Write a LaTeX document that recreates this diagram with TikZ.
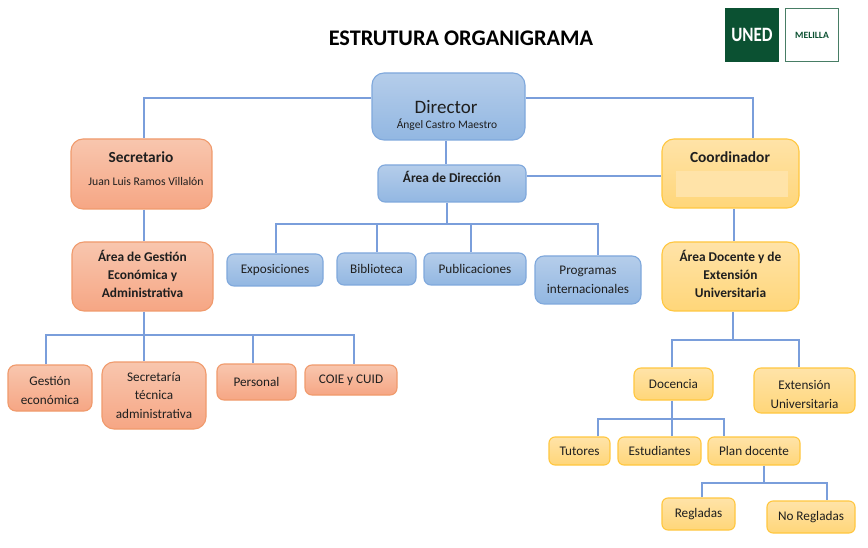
\documentclass[tikz,border=0pt]{standalone}
\usepackage{fontspec}
\setmainfont{Carlito}
\usetikzlibrary{calc}
\definecolor{bluetop}{HTML}{B5CDEA}\definecolor{bluebot}{HTML}{92B7E2}\definecolor{blueline}{HTML}{7FA8DC}
\definecolor{redtop}{HTML}{F8C6AE}\definecolor{redbot}{HTML}{F6A684}\definecolor{redline}{HTML}{F09A6C}
\definecolor{yeltop}{HTML}{FFE3A8}\definecolor{yelbot}{HTML}{FFD679}\definecolor{yelline}{HTML}{FFC73F}
\definecolor{link}{HTML}{7A9EDB}\definecolor{uned}{HTML}{0B5132}\definecolor{txt}{HTML}{1F1F1F}
\tikzset{
 x=1pt,y=-1pt,
 base/.style={rounded corners=#1,line width=1.1pt,inner sep=0pt,align=center,text=txt,font=\fontsize{13.2}{18.5}\selectfont},
 bluebox/.style={base=#1,draw=blueline,top color=bluetop,bottom color=bluebot},
 redbox/.style={base=#1,draw=redline,top color=redtop,bottom color=redbot},
 yelbox/.style={base=#1,draw=yelline,top color=yeltop,bottom color=yelbot},
 head/.style={font=\fontsize{15.4}{20}\bfseries\selectfont},
 subhead/.style={font=\fontsize{13.4}{18}\bfseries\selectfont},
 small/.style={text=txt,font=\fontsize{11.7}{14}\selectfont},
 conn/.style={draw=link,line width=1.1pt},
}
\newcommand{\bx}[7]{\node[#2,minimum width=#5pt-#3pt,minimum height=#6pt-#4pt] (#1) at ({(#3+#5)/2},{(#4+#6)/2}) {#7};}
\begin{document}
\begin{tikzpicture}
\useasboundingbox (0,0) rectangle (868,548);
\fill[white] (0,0) rectangle (868,548);
% connector corners
\coordinate (jl) at (144,98); \coordinate (jr) at (753,98);
\coordinate (b1) at (447,224); \coordinate (b2) at (144,335);
\coordinate (xexp) at (276,224); \coordinate (xbib) at (377,224); \coordinate (xpub) at (471,224); \coordinate (xpro) at (598,224);
\coordinate (xges) at (46,335); \coordinate (xper) at (253,335); \coordinate (xcoi) at (354,335);
\coordinate (xdoc) at (672,340); \coordinate (xext) at (799,340); \coordinate (xado) at (733,340);
\coordinate (xtut) at (598,419); \coordinate (xest) at (672,419); \coordinate (xpla) at (724,419);
\coordinate (xreg) at (702,483); \coordinate (xnor) at (827,483); \coordinate (xplb) at (764,483);
% nodes
\bx{dir}{bluebox=12pt}{372}{73}{525}{140}{}
\node[text=txt,font=\fontsize{19}{20}\selectfont] (dirname) at (446,107) {Director};
\node[text=txt,font=\fontsize{11.5}{14}\selectfont] (dirsub) at (447,125) {Ángel Castro Maestro};
\bx{adir}{bluebox=7pt,subhead}{378}{165}{526}{202}{\raisebox{1pt}[0pt][0pt]{Área de Dirección}}
\bx{sec}{redbox=12pt}{71}{139}{212}{209}{}
\node[text=txt,head] (secname) at (141,157) {Secretario};
\node[small] (secsub) at (146,181) {Juan Luis Ramos Villalón};
\bx{age}{redbox=12pt,subhead}{72}{242}{213}{311}{Área de Gestión\\Económica y\\Administrativa\rule[-5pt]{0pt}{0pt}}
\bx{coo}{yelbox=12pt}{662}{139}{799}{208}{}
\fill[yeltop] (676,171) rectangle (788,197);
\node[text=txt,head] (cooname) at (730,157) {Coordinador};
\bx{ado}{yelbox=12pt,subhead}{662}{242}{799}{311}{Área Docente y de\\Extensión\\Universitaria\rule[-5pt]{0pt}{0pt}}
\bx{exp}{bluebox=7pt}{227}{254}{323}{286}{Exposiciones}
\bx{bib}{bluebox=7pt}{337}{253}{416}{285}{Biblioteca}
\bx{pub}{bluebox=7pt}{424}{253}{526}{285}{Publicaciones}
\bx{pro}{bluebox=9pt}{535}{256}{641}{304}{Programas\\internacionales}
\bx{ges}{redbox=8pt}{8}{365}{92}{411}{\rule{0pt}{14pt}Gestión\\económica}
\bx{sta}{redbox=12pt}{102}{362}{206}{429}{Secretaría\\técnica\\administrativa}
\bx{per}{redbox=7pt}{217}{364}{296}{400}{Personal}
\bx{coi}{redbox=7pt}{305}{365}{397}{395}{COIE y CUID}
\bx{doc}{yelbox=7pt}{634}{368}{713}{400}{Docencia}
\bx{ext}{yelbox=7pt}{754}{368}{855}{413}{\rule{0pt}{17pt}Extensión\\Universitaria}
\bx{tut}{yelbox=6pt}{549}{437}{610}{465}{Tutores}
\bx{est}{yelbox=6pt}{618}{437}{701}{465}{Estudiantes}
\bx{pla}{yelbox=6pt}{708}{437}{800}{465}{Plan docente}
\bx{reg}{yelbox=6pt}{662}{498}{735}{530}{Regladas}
\bx{nor}{yelbox=6pt}{767}{501}{855}{533}{No Regladas}
% links
\draw[conn] (dir.west |- jl) -- (jl) -- (jl |- sec.north);
\draw[conn] (dir.east |- jr) -- (jr) -- (jr |- coo.north);
\draw[conn] (dir.south -| 446,0) -- (adir.north -| 446,0);
\draw[conn] (adir.east |- 0,176) -- (coo.west |- 0,176);
\draw[conn] (sec.south -| 144,0) -- (age.north -| 144,0);
\draw[conn] (coo.south -| 734,0) -- (ado.north -| 734,0);
\draw[conn] (adir.south -| b1) -- (b1);
\draw[conn] (exp.north -| xexp) -- (xexp) -- (xpro) -- (pro.north -| xpro);
\draw[conn] (xbib) -- (bib.north -| xbib);
\draw[conn] (xpub) -- (pub.north -| xpub);
\draw[conn] (age.south -| b2) -- (sta.north -| b2);
\draw[conn] (ges.north -| xges) -- (xges) -- (xcoi) -- (coi.north -| xcoi);
\draw[conn] (xper) -- (per.north -| xper);
\draw[conn] (ado.south -| xado) -- (xado);
\draw[conn] (doc.north -| xdoc) -- (xdoc) -- (xext) -- (ext.north -| xext);
\draw[conn] (doc.south -| xest) -- (est.north -| xest);
\draw[conn] (tut.north -| xtut) -- (xtut) -- (xpla) -- (pla.north -| xpla);
\draw[conn] (pla.south -| xplb) -- (xplb);
\draw[conn] (reg.north -| xreg) -- (xreg) -- (xnor) -- (nor.north -| xnor);
% title and logo
\node[font=\fontsize{22.3}{24}\bfseries\selectfont,text=black] (title) at (461,38) {ESTRUTURA ORGANIGRAMA};
\node[fill=uned,minimum size=54pt,inner sep=0pt,text=white,font=\fontsize{17}{18}\bfseries\selectfont] (logo) at (752,35) {\scalebox{1}[1.2]{UNED}};
\node[draw=uned!75,fill=white,line width=1pt,minimum size=53pt,inner sep=0pt,text=uned,font=\fontsize{9.6}{10}\bfseries\selectfont] (mel) at (812,35) {MELILLA};
\end{tikzpicture}
\end{document}
